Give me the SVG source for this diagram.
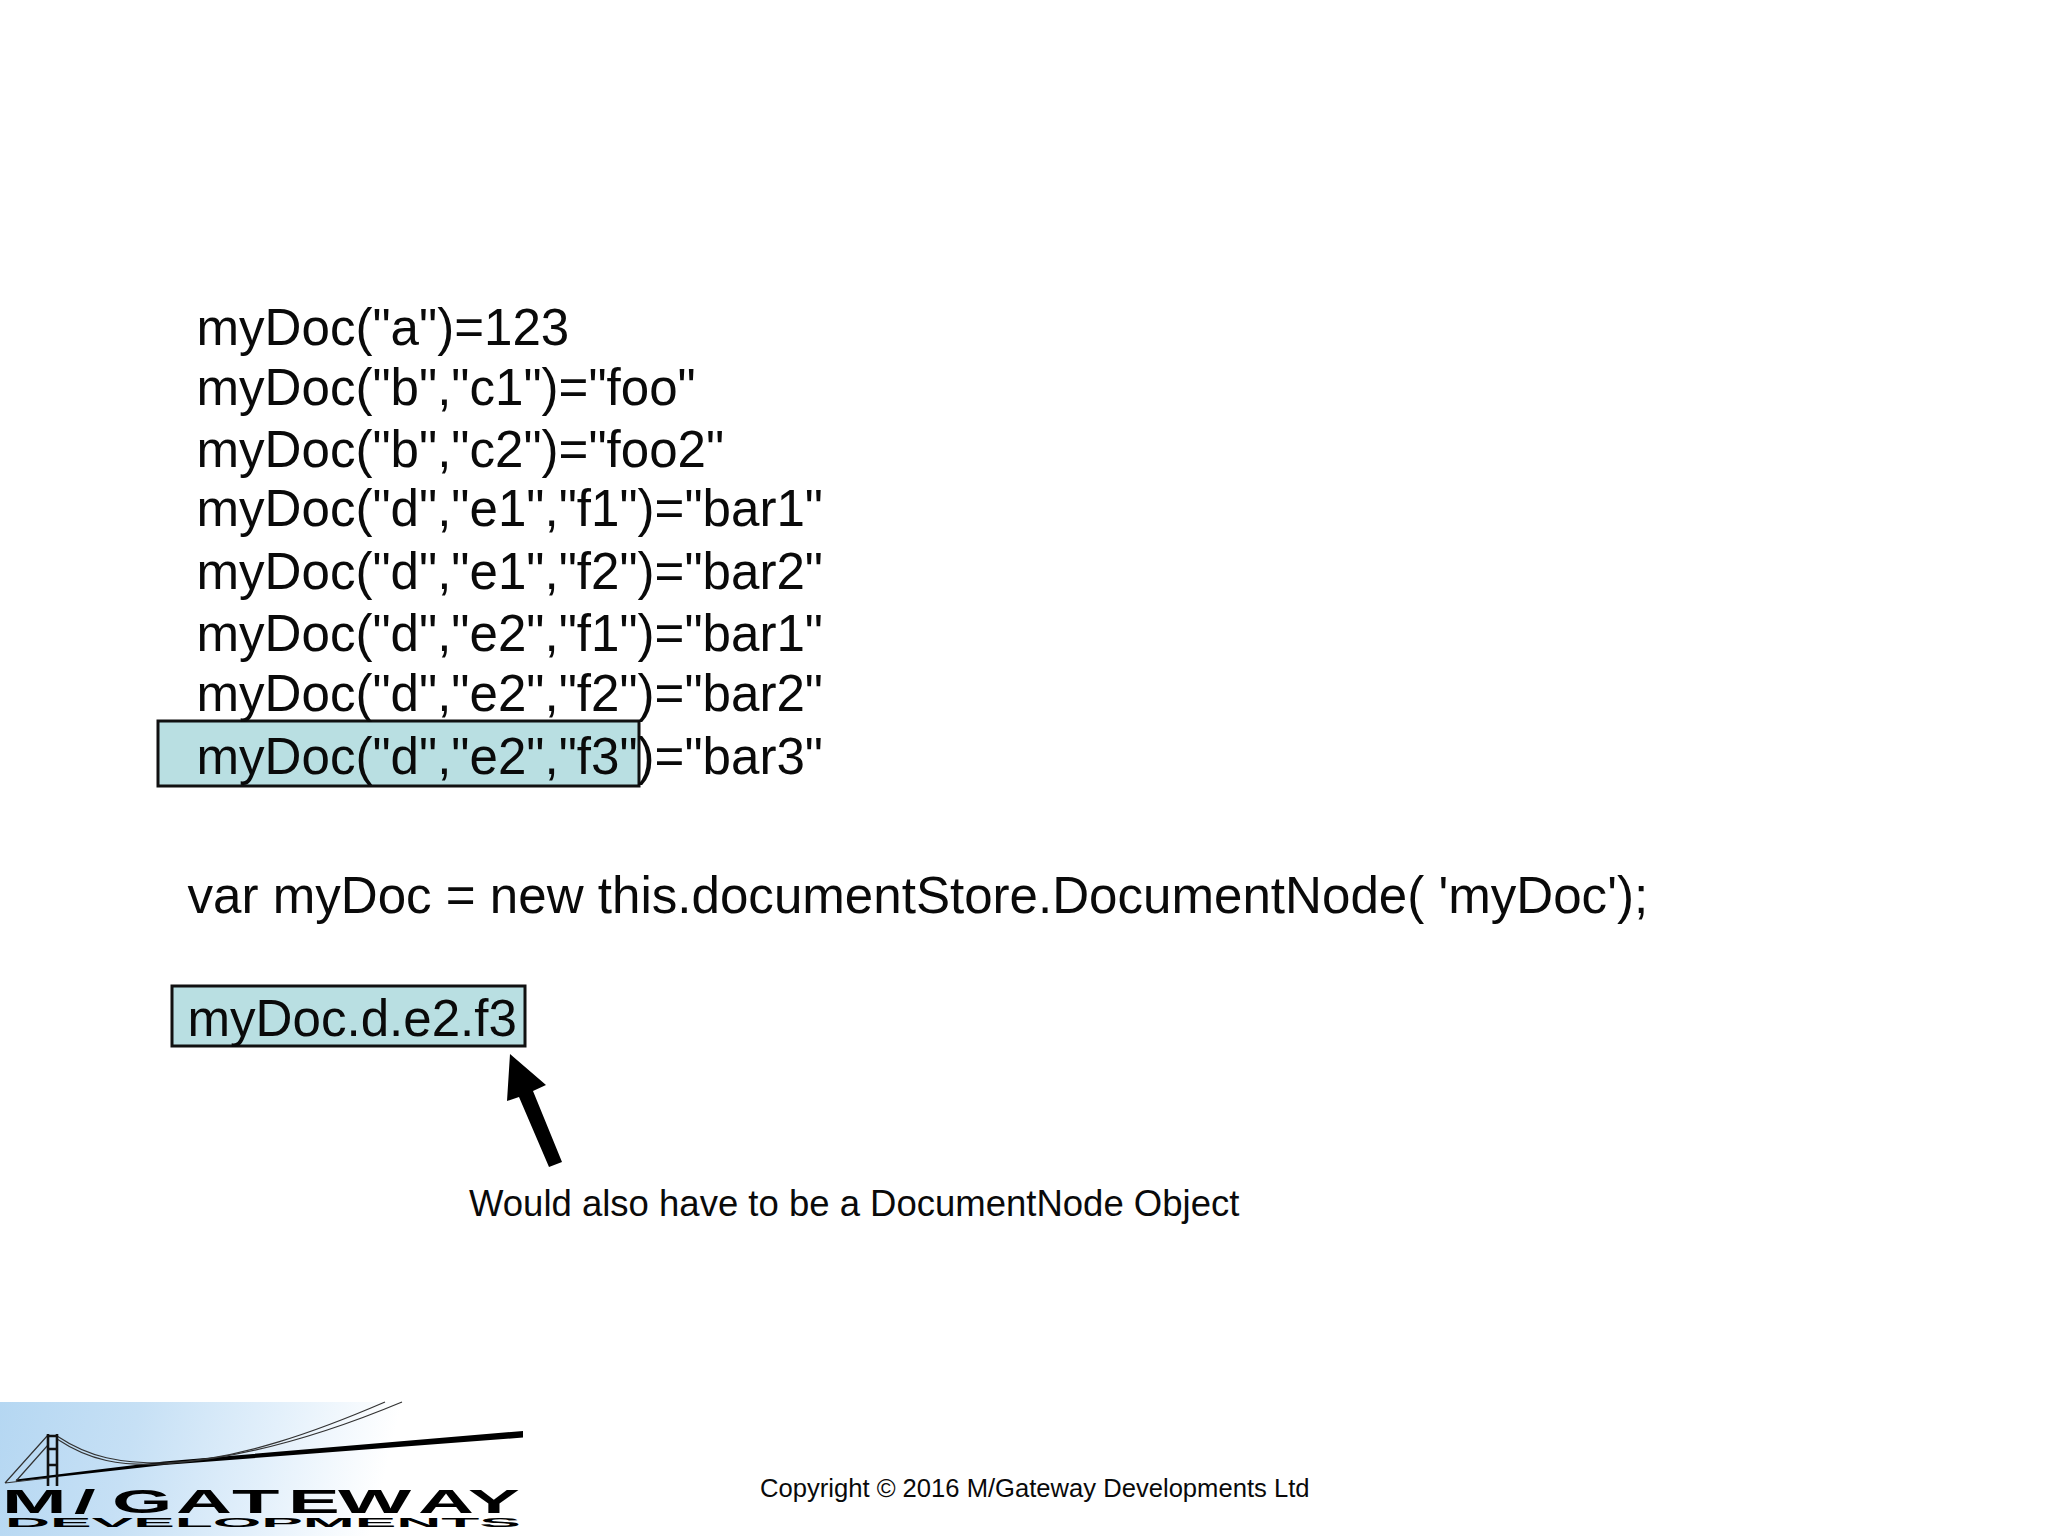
<svg xmlns="http://www.w3.org/2000/svg" width="2048" height="1536" viewBox="0 0 2048 1536">
<style>
text{font-family:"Liberation Sans",Arial,sans-serif;fill:#0a0a0a}
.code{font-size:51.1px}
.box{fill:#b9dfe2;stroke:#111;stroke-width:3}
.cable{fill:none;stroke:#333;stroke-width:1.2}
.tower{fill:none;stroke:#111;stroke-width:2.6}
</style>
<defs>
<linearGradient id="sky" x1="0" y1="0" x2="1" y2="0.08">
<stop offset="0" stop-color="#b5d7f2"/>
<stop offset="0.35" stop-color="#c6e0f5"/>
<stop offset="0.7" stop-color="#e3f0fb"/>
<stop offset="1" stop-color="#ffffff"/>
</linearGradient>
</defs>
<rect width="2048" height="1536" fill="#ffffff"/>
<g id="highlight-row"><rect class="box" x="158" y="721" width="481" height="65"/></g>
<g id="code-lines">
<text class="code" x="196.5" y="345">myDoc("a")=123</text>
<text class="code" x="196.5" y="405">myDoc("b","c1")="foo"</text>
<text class="code" x="196.5" y="467">myDoc("b","c2")="foo2"</text>
<text class="code" x="196.5" y="526">myDoc("d","e1","f1")="bar1"</text>
<text class="code" x="196.5" y="589">myDoc("d","e1","f2")="bar2"</text>
<text class="code" x="196.5" y="651">myDoc("d","e2","f1")="bar1"</text>
<text class="code" x="196.5" y="711">myDoc("d","e2","f2")="bar2"</text>
<text class="code" x="196.5" y="774">myDoc("d","e2","f3")="bar3"</text>
</g>
<g id="constructor-line"><text class="code" x="187.5" y="913">var myDoc = new this.documentStore.DocumentNode( 'myDoc');</text></g>
<g id="dot-path"><rect class="box" x="172" y="986" width="353" height="60"/><text class="code" x="187.5" y="1036">myDoc.d.e2.f3</text></g>
<g id="connectors"><polygon fill="#000" points="510,1054 546,1085 533,1091 562,1162 549,1167 519,1097 507,1101"/></g>
<g id="note"><text x="469" y="1216" font-size="36.5">Would also have to be a DocumentNode Object</text></g>
<g id="copyright"><text x="760" y="1497" font-size="25.6">Copyright © 2016 M/Gateway Developments Ltd</text></g>
<g id="logo">
<rect x="0" y="1402" width="400" height="134" fill="url(#sky)"/>
<polygon fill="#000" points="16,1479.5 164,1461.5 523,1431 523,1437.5 164,1465 16,1481.5"/>
<path class="cable" d="M57,1436C90,1458 120,1463 164,1463C240,1460 320,1430 385,1402"/>
<path class="cable" d="M57,1439C90,1461 120,1466 164,1464C250,1458 335,1430 402,1402"/>
<path class="cable" d="M48,1435L5,1483M48,1445L16,1481M5,1483L48,1478"/>
<path class="tower" d="M48,1434V1486M57,1434V1486M48,1436H57M48,1449H57M48,1465H57"/>
<text transform="scale(2.35,1)" x="0.85 31.5 47.7 74.9 98.7 122.6 143.8 177.9 199.1" y="1513" font-size="33" font-weight="700" style="fill:#000">M/GATEWAY</text>
<text x="5" y="1527" font-size="12.5" font-weight="700" textLength="516" lengthAdjust="spacingAndGlyphs" style="fill:#000">DEVELOPMENTS</text>
</g>
</svg>
